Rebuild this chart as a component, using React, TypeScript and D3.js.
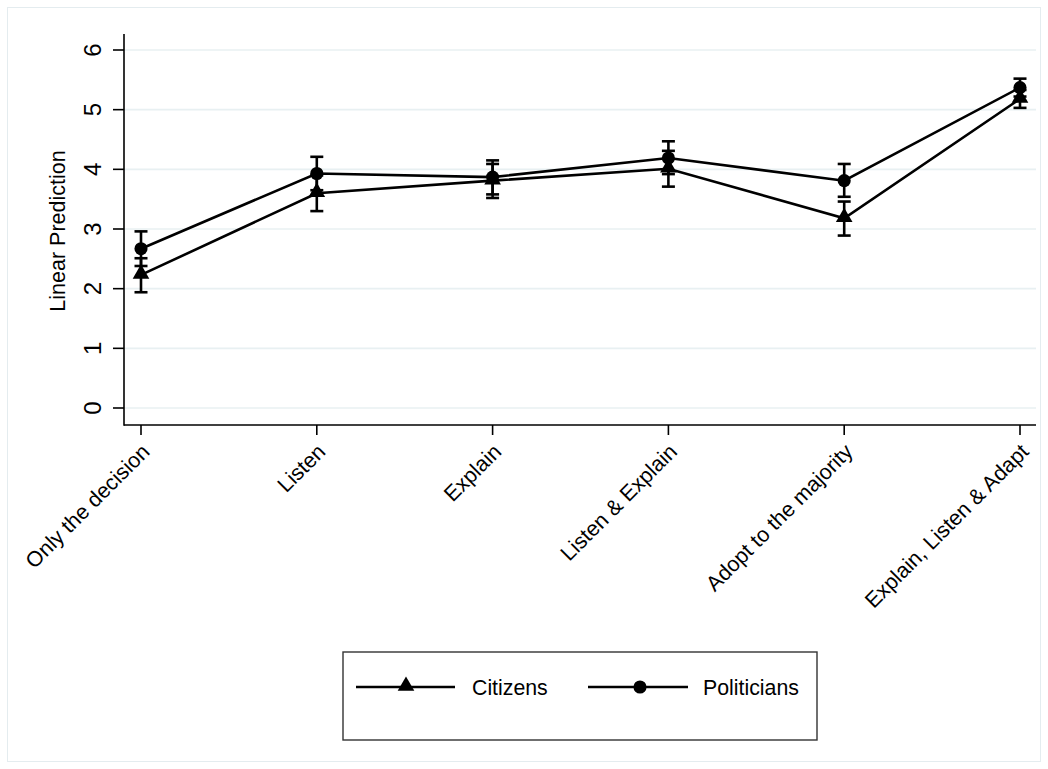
import React from "react";
import * as d3 from "d3";

const categories = [
  "Only the decision",
  "Listen",
  "Explain",
  "Listen & Explain",
  "Adopt to the majority",
  "Explain, Listen & Adapt",
];
const citizens = [2.23, 3.6, 3.81, 4.01, 3.18, 5.18];
const citizensLo = [1.94, 3.3, 3.52, 3.71, 2.89, 5.03];
const citizensHi = [2.51, 3.9, 4.09, 4.31, 3.46, 5.33];
const politicians = [2.67, 3.93, 3.87, 4.19, 3.81, 5.37];
const politiciansLo = [2.38, 3.65, 3.58, 3.92, 3.54, 5.22];
const politiciansHi = [2.96, 4.21, 4.15, 4.47, 4.09, 5.52];
const yTicks = [0, 1, 2, 3, 4, 5, 6];
const seriesNames = ["Citizens", "Politicians"];

const W = 1048;
const H = 769;
const FONT = "Liberation Sans, Arial, Helvetica, sans-serif";

export default function App() {
  const x = d3.scalePoint<string>().domain(categories).range([141, 1020]);
  const y = d3.scaleLinear().domain([0, 6]).range([408, 50]);
  const axisX = 124;
  const axisY = 425;
  const plotRight = 1036;
  const plotTop = 34;

  const line = d3
    .line<number>()
    .x((_, i) => x(categories[i]) as number)
    .y((d) => y(d));

  const tri = d3.symbol().type(d3.symbolTriangle).size(120)();
  const circ = d3.symbol().type(d3.symbolCircle).size(135)();

  const capW = 6.5;
  const errBars = (lo: number[], hi: number[], key: string) =>
    categories.map((c, i) => {
      const cx = x(c) as number;
      return (
        <g key={key + i} stroke="#000" strokeWidth={2.6} fill="none">
          <line x1={cx} x2={cx} y1={y(lo[i])} y2={y(hi[i])} />
          <line x1={cx - capW} x2={cx + capW} y1={y(lo[i])} y2={y(lo[i])} />
          <line x1={cx - capW} x2={cx + capW} y1={y(hi[i])} y2={y(hi[i])} />
        </g>
      );
    });

  return (
    <svg
      width={W}
      height={H}
      style={{ position: "absolute", left: 0, top: 0, display: "block", background: "#fff" }}
      fontFamily={FONT}
    >
      <rect x={7.5} y={7.5} width={W - 15} height={H - 15} fill="#fff" stroke="#e4ecef" strokeWidth={1} />
      {/* gridlines */}
      {yTicks.map((t) => (
        <line key={"g" + t} x1={axisX} x2={plotRight} y1={y(t)} y2={y(t)} stroke="#e8f0f2" strokeWidth={1.6} />
      ))}
      {/* y axis */}
      <line x1={axisX} x2={axisX} y1={plotTop} y2={axisY + 0.8} stroke="#000" strokeWidth={1.6} />
      {yTicks.map((t) => (
        <g key={"yt" + t}>
          <line x1={axisX - 11} x2={axisX} y1={y(t)} y2={y(t)} stroke="#000" strokeWidth={1.6} />
          <text
            transform={`translate(${axisX - 23},${y(t)}) rotate(-90)`}
            textAnchor="middle"
            fontSize={24}
            fill="#000"
          >
            {t}
          </text>
        </g>
      ))}
      <text
        transform={`translate(65,${(150 + 312) / 2}) rotate(-90)`}
        textAnchor="middle"
        fontSize={21.5}
        fill="#000"
      >
        Linear Prediction
      </text>
      {/* x axis */}
      <line x1={axisX} x2={plotRight} y1={axisY} y2={axisY} stroke="#000" strokeWidth={1.6} />
      {categories.map((c) => {
        const cx = x(c) as number;
        return (
          <g key={"xt" + c}>
            <line x1={cx} x2={cx} y1={axisY} y2={axisY + 10} stroke="#000" strokeWidth={1.6} />
            <text
              transform={`translate(${cx + 10},${axisY + 28}) rotate(-45)`}
              textAnchor="end"
              fontSize={21.5}
              fill="#000"
            >
              {c}
            </text>
          </g>
        );
      })}
      {/* error bars */}
      {errBars(citizensLo, citizensHi, "ce")}
      {errBars(politiciansLo, politiciansHi, "pe")}
      {/* lines */}
      <path d={line(citizens) || ""} fill="none" stroke="#000" strokeWidth={2.6} />
      <path d={line(politicians) || ""} fill="none" stroke="#000" strokeWidth={2.6} />
      {/* markers */}
      {citizens.map((v, i) => (
        <path key={"cm" + i} d={tri || ""} transform={`translate(${x(categories[i])},${y(v) - 1})`} fill="#000" />
      ))}
      {politicians.map((v, i) => (
        <path key={"pm" + i} d={circ || ""} transform={`translate(${x(categories[i])},${y(v)})`} fill="#000" />
      ))}
      {/* legend */}
      <rect x={343} y={652} width={474} height={88} fill="#fff" stroke="#333" strokeWidth={1.4} />
      <line x1={356} x2={455} y1={687} y2={687} stroke="#000" strokeWidth={2.6} />
      <path d={tri || ""} transform="translate(406,686)" fill="#000" />
      <text x={472} y={694.5} fontSize={21.3} fill="#000">
        {seriesNames[0]}
      </text>
      <line x1={588} x2={688} y1={687} y2={687} stroke="#000" strokeWidth={2.6} />
      <path d={circ || ""} transform="translate(640,687)" fill="#000" />
      <text x={703} y={694.5} fontSize={21.3} fill="#000">
        {seriesNames[1]}
      </text>
    </svg>
  );
}
